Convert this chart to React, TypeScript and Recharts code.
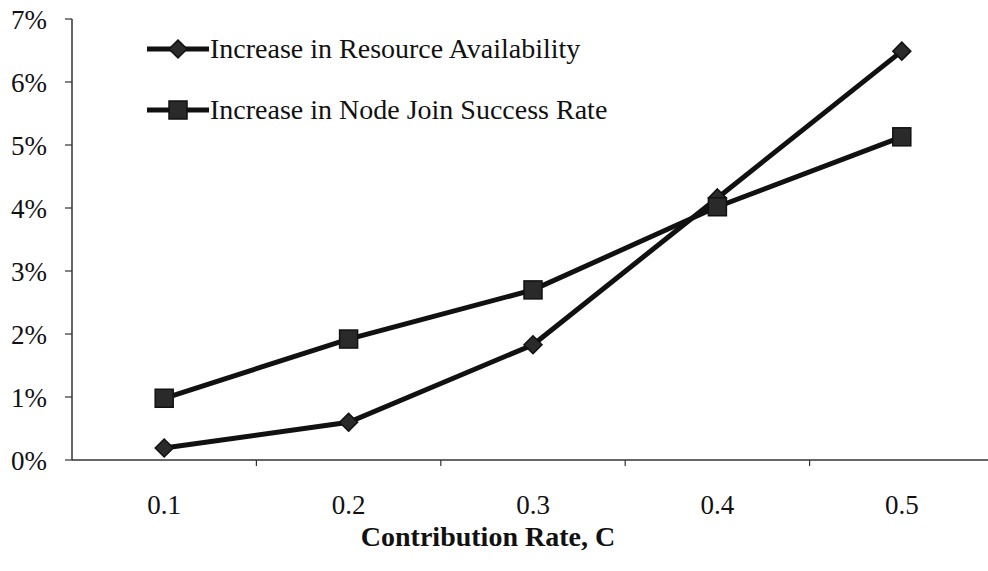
import React from 'react';
import { LineChart, Line, XAxis, YAxis, Legend, Label } from 'recharts';

const categories = [0.1, 0.2, 0.3, 0.4, 0.5];
const xTickLabels = ['0.1', '0.2', '0.3', '0.4', '0.5'];
const xBoundaryTicks = [0.15, 0.25, 0.35, 0.45];
const yTicks = [0, 1, 2, 3, 4, 5, 6, 7];
const resourceAvailability = [0.19, 0.6, 1.83, 4.16, 6.49];
const nodeJoinSuccess = [0.98, 1.92, 2.7, 4.02, 5.13];

const seriesNames = ['Increase in Resource Availability', 'Increase in Node Join Success Rate'];

const data = categories.map((c, i) => ({
  c,
  resource: resourceAvailability[i],
  node: nodeJoinSuccess[i],
}));

const FONT = '"Liberation Serif", "DejaVu Serif", serif';
const INK = '#111111';

const Diamond = ({ cx, cy, r = 8 }: { cx: number; cy: number; r?: number }) => (
  <path
    d={`M${cx},${cy - r} L${cx + r},${cy} L${cx},${cy + r} L${cx - r},${cy} Z`}
    fill="#2a2a2a"
    stroke={INK}
    strokeWidth={1.5}
  />
);

const Square = ({ cx, cy, s = 9 }: { cx: number; cy: number; s?: number }) => (
  <rect x={cx - s} y={cy - s} width={s * 2} height={s * 2} fill="#2a2a2a" stroke={INK} strokeWidth={1.5} />
);

const XTick = (props: any) => {
  const { x, y, payload } = props;
  const i = categories.indexOf(payload.value);
  if (i < 0) {
    return <line x1={x} x2={x} y1={y - 6} y2={y} stroke="#333" strokeWidth={1.2} />;
  }
  return (
    <text x={x} y={y} dy={48} textAnchor="middle" fontFamily={FONT} fontSize={27} fill={INK}>
      {xTickLabels[i]}
    </text>
  );
};

const LegendContent = () => (
  <div style={{ fontFamily: FONT, fontSize: 28, color: INK }}>
    {seriesNames.map((name, i) => (
      <div key={name} style={{ display: 'flex', alignItems: 'center', height: 61 }}>
        <svg width={62} height={24} style={{ display: 'block' }}>
          <line x1={0} y1={12} x2={62} y2={12} stroke={INK} strokeWidth={5} />
          {i === 0 ? <Diamond cx={31} cy={12} r={9} /> : <Square cx={31} cy={12} s={9} />}
        </svg>
        <span style={{ marginLeft: 1, whiteSpace: 'nowrap' }}>{name}</span>
      </div>
    ))}
  </div>
);

export default function App() {
  return (
    <div style={{ position: 'fixed', left: 0, top: 0, width: 988, height: 571, overflow: 'hidden', background: '#fff' }}>
      <LineChart width={1000} height={571} data={data} margin={{ top: 19, right: 6, left: 0, bottom: 0 }}>
        <XAxis
          dataKey="c"
          type="number"
          domain={[0.05, 0.55]}
          ticks={[...categories, ...xBoundaryTicks].sort((a, b) => a - b)}
          interval={0}
          tick={<XTick />}
          tickLine={false}
          tickSize={6}
          tickMargin={0}
          height={111}
          axisLine={{ stroke: '#333', strokeWidth: 1.5 }}
        >
          <Label
            value="Contribution Rate, C"
            position="insideBottom"
            offset={25}
            dx={-45}
            style={{ fontFamily: FONT, fontSize: 28, fontWeight: 'bold', fill: INK }}
          />
        </XAxis>
        <YAxis
          type="number"
          domain={[0, 7]}
          ticks={yTicks}
          interval={0}
          width={72}
          tickSize={7}
          tickMargin={18}
          tickFormatter={(v: number) => `${v}%`}
          tick={{ fontFamily: FONT, fontSize: 27, fill: INK }}
          tickLine={{ stroke: '#333', strokeWidth: 1.2 }}
          axisLine={{ stroke: '#333', strokeWidth: 1.5 }}
        />
        <Legend
          layout="vertical"
          align="center"
          verticalAlign="middle"
          content={<LegendContent />}
          wrapperStyle={{ top: 18, left: 147, width: 'auto' }}
        />
        <Line
          dataKey="resource"
          name={seriesNames[0]}
          stroke={INK}
          strokeWidth={5}
          isAnimationActive={false}
          dot={(p: any) => <Diamond key={`d${p.index}`} cx={p.cx} cy={p.cy} r={9} />}
          activeDot={false}
        />
        <Line
          dataKey="node"
          name={seriesNames[1]}
          stroke={INK}
          strokeWidth={5}
          isAnimationActive={false}
          dot={(p: any) => <Square key={`s${p.index}`} cx={p.cx} cy={p.cy} s={9} />}
          activeDot={false}
        />
      </LineChart>
    </div>
  );
}
